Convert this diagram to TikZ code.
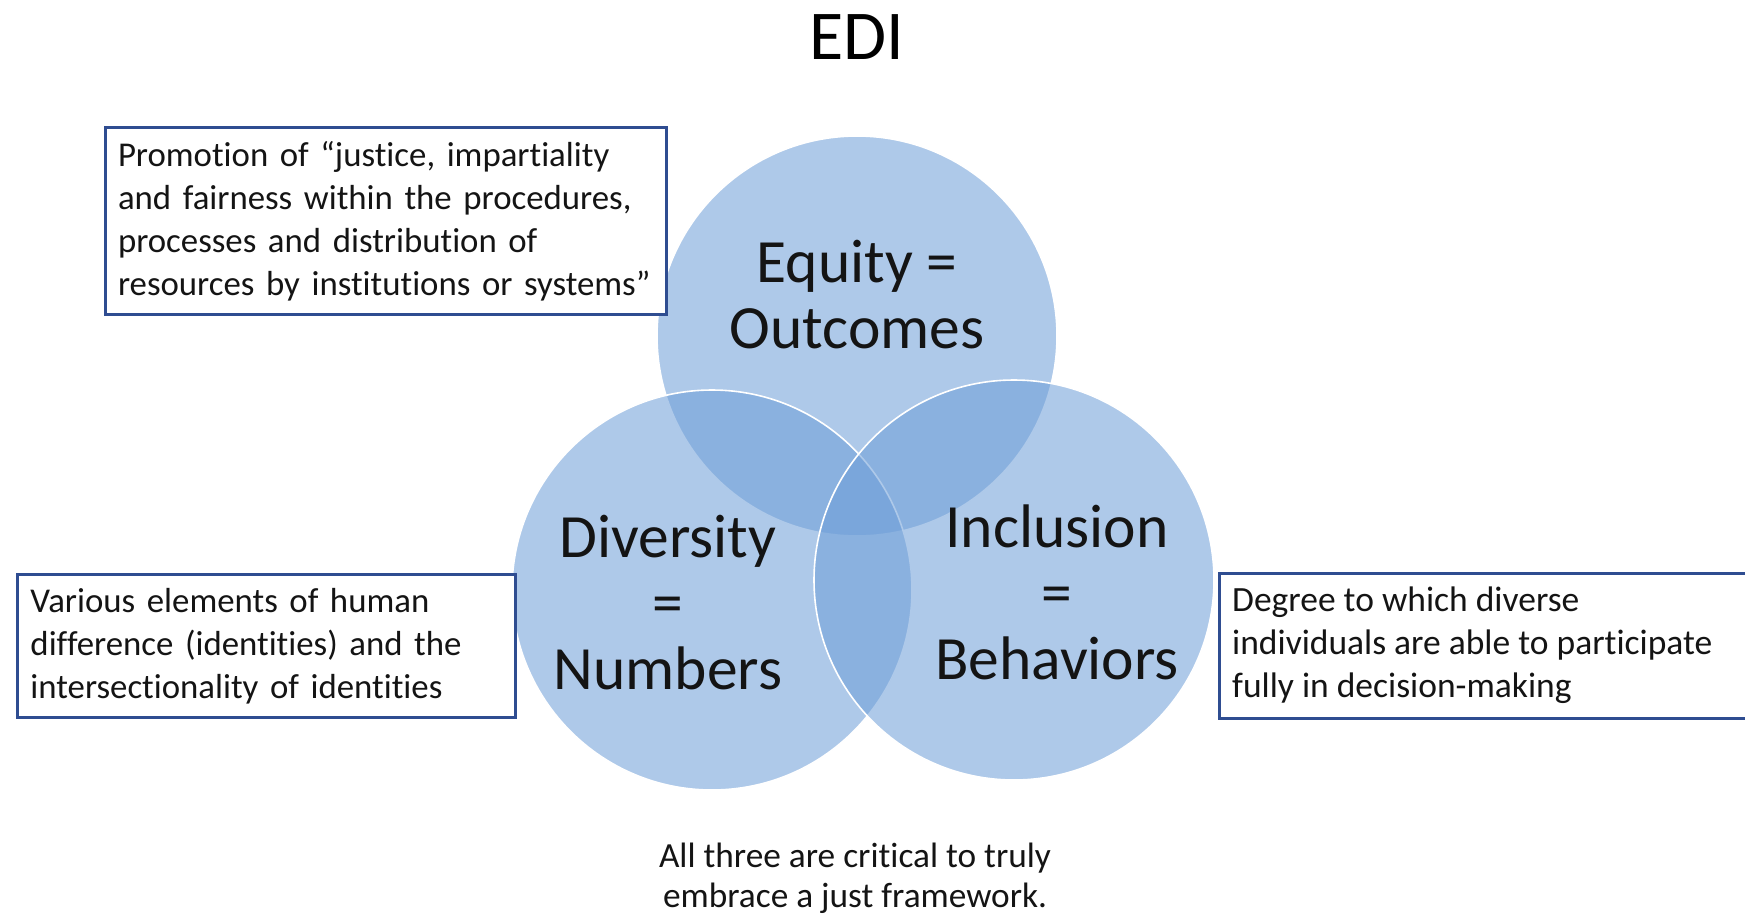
\documentclass[tikz,border=0pt]{standalone}
\usepackage{fontspec}
\setmainfont{Carlito}[Ligatures=NoCommon]
\definecolor{vfill}{HTML}{6F9FD8}
\definecolor{boxblue}{HTML}{2F4D91}
\definecolor{ink}{HTML}{141414}
\begin{document}
\begin{tikzpicture}[x=1pt,y=-1pt,
  venn/.style={circle, minimum size=400pt, inner sep=0pt, fill=vfill, fill opacity=0.56, draw=white, draw opacity=1, line width=1.6pt},
  vlabel/.style={align=center, text=ink, font=\fontsize{61.5}{66}\selectfont, inner sep=0pt},
  infobox/.style={draw=boxblue, line width=3pt, fill=white, anchor=north west, align=left, text=ink, font=\fontsize{34.8}{43}\selectfont, inner xsep=13pt, inner ysep=0pt},
  note/.style={align=center, text=ink, font=\fontsize{35.3}{40}\selectfont, inner sep=0pt}]
\useasboundingbox (0,0) rectangle (1745,914);
\fill[white] (0,0) rectangle (1745,914);
% title
\node[text=black, font=\fontsize{70}{80}\selectfont, inner sep=0pt] (title) at (857,37) {EDI};
% circles
\node[venn] (eq) at (857,336) {};
\node[venn] (div) at (712,590) {};
\node[venn] (inc) at (1014,580) {};
% circle labels
\node[vlabel] (eqt) at (857,295) {Equity =\\Outcomes};
\node[vlabel] (divt) at (668,603) {Diversity\\=\\Numbers};
\node[vlabel] (inct) at (1057,592) {Inclusion\\=\\Behaviors};
% boxes
\node[infobox, text width=535pt, minimum height=187pt] (eqbox) at (103.5,126) {Promotion of “justice, impartiality\\and fairness within the procedures,\\processes and distribution of\\resources by institutions or systems”};
\node[infobox, text width=472pt, minimum height=143pt] (divbox) at (16,573) {Various elements of human\\difference (identities) and the\\intersectionality of identities};
\node[anchor=north west, inner sep=0pt, minimum width=540pt, minimum height=145pt, fill=white] (incbox) at (1219,573) {};
\draw[boxblue, line width=3pt] (1760,573) -- (1219,573) -- (1219,718) -- (1760,718);
\node[anchor=west, align=left, text=ink, font=\fontsize{35.5}{43}\selectfont, inner sep=0pt] (inctext) at (1232,645.5) {Degree to which diverse\\individuals are able to participate\\fully in decision-making};
% bottom note
\node[note] (bottom) at (855,878) {All three are critical to truly\\embrace a just framework.};
\end{tikzpicture}
\end{document}
